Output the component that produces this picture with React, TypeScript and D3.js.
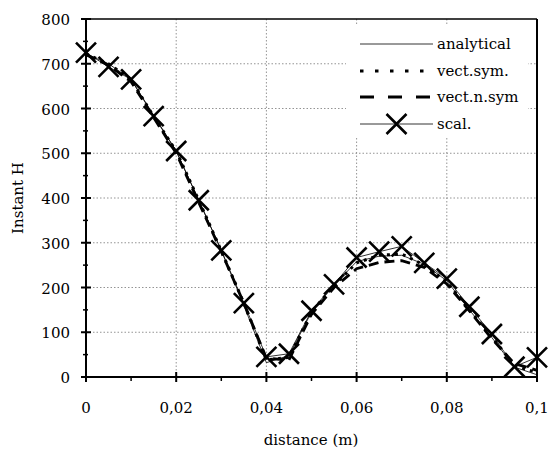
import React from "react";
import * as d3 from "d3";

const distances = [0, 0.005, 0.01, 0.015, 0.02, 0.025, 0.03, 0.035, 0.04, 0.045, 0.05, 0.055, 0.06, 0.065, 0.07, 0.075, 0.08, 0.085, 0.09, 0.095, 0.1];
const analytical = [722, 700, 665, 585, 505, 395, 283, 160, 32, 48, 145, 205, 258, 270, 272, 252, 215, 150, 88, 22, 5];
const vectSym = [722, 700, 665, 582, 505, 395, 282, 165, 38, 44, 145, 205, 255, 272, 275, 250, 213, 150, 90, 25, 10];
const vectNSym = [720, 697, 660, 580, 500, 390, 280, 165, 42, 38, 140, 200, 242, 256, 260, 245, 208, 148, 85, 30, 15];
const scal = [725, 693, 665, 583, 505, 395, 283, 165, 45, 52, 148, 207, 267, 280, 292, 255, 220, 157, 96, 23, 44];

const yTicks = [0, 100, 200, 300, 400, 500, 600, 700, 800];
const yMinor = [50, 150, 250, 350, 450, 550, 650, 750];
const xTicks = [0, 0.02, 0.04, 0.06, 0.08, 0.1];
const xMinor = [0.01, 0.03, 0.05, 0.07, 0.09];
const xTickLabels = ["0", "0,02", "0,04", "0,06", "0,08", "0,1"];
const legendLabels = ["analytical", "vect.sym.", "vect.n.sym", "scal."];

const W = 549, H = 453;
const L = 86, R = 537, T = 19, B = 377;
const FONT = "DejaVu Serif, serif";
const txt: React.CSSProperties = { fontFamily: FONT, fontSize: 15 };

export default function App() {
  const x = d3.scaleLinear().domain([0, 0.1]).range([L, R]);
  const y = d3.scaleLinear().domain([0, 800]).range([B, T]);
  const line = (vals: number[]) =>
    d3.line<number>().x((_, i) => x(distances[i])).y((v) => y(v))(vals) || "";

  const cross = (cx: number, cy: number, s = 10, key?: any) => (
    <path key={key} d={`M${cx - s},${cy - s}L${cx + s},${cy + s}M${cx - s},${cy + s}L${cx + s},${cy - s}`} stroke="#000" strokeWidth={2.6} fill="none" />
  );

  const legY = [44, 71, 97, 124];
  const lx0 = 360, lx1 = 433;

  return (
    <svg width={W} height={H} style={{ position: "absolute", left: 0, top: 0, background: "#fff" }}>
      <rect x={0} y={0} width={W} height={H} fill="#fff" />
      {yTicks.filter((t) => t > 0 && t < 800).map((t) => (
        <line key={"gy" + t} x1={L} x2={R} y1={y(t)} y2={y(t)} stroke="#888" strokeWidth={0.9} strokeDasharray="1.5 2" />
      ))}
      {xTicks.filter((t) => t > 0 && t < 0.1).map((t) => (
        <line key={"gx" + t} x1={x(t)} x2={x(t)} y1={T} y2={B} stroke="#888" strokeWidth={0.9} strokeDasharray="1.5 2" />
      ))}
      <rect x={346} y={26} width={182} height={112} fill="#fff" />
      <line x1={L} x2={R} y1={T} y2={T} stroke="#000" strokeWidth={1.5} />
      <line x1={R} x2={R} y1={T} y2={B} stroke="#000" strokeWidth={2} />
      <path d={line(analytical)} fill="none" stroke="#000" strokeWidth={0.8} />
      <path d={line(vectSym)} fill="none" stroke="#000" strokeWidth={3} strokeDasharray="3 5" />
      <path d={line(vectNSym)} fill="none" stroke="#000" strokeWidth={2.8} strokeDasharray="10 6" />
      <path d={line(scal)} fill="none" stroke="#000" strokeWidth={0.8} />
      {scal.map((v, i) => cross(x(distances[i]), y(v), 10, "m" + i))}
      <line x1={L} x2={L} y1={T} y2={B} stroke="#000" strokeWidth={2} />
      <line x1={L} x2={R} y1={B} y2={B} stroke="#000" strokeWidth={2} />
      {yTicks.map((t) => (
        <line key={"yt" + t} x1={L - 5} x2={L + 5} y1={y(t)} y2={y(t)} stroke="#000" strokeWidth={2} />
      ))}
      {yMinor.map((t) => (
        <line key={"ym" + t} x1={L - 3} x2={L + 2} y1={y(t)} y2={y(t)} stroke="#000" strokeWidth={1.5} />
      ))}
      {xTicks.map((t) => (
        <line key={"xt" + t} x1={x(t)} x2={x(t)} y1={B - 5} y2={B + 5} stroke="#000" strokeWidth={2} />
      ))}
      {xMinor.map((t) => (
        <line key={"xm" + t} x1={x(t)} x2={x(t)} y1={B - 1} y2={B + 4} stroke="#000" strokeWidth={1.5} />
      ))}
      {yTicks.map((t) => (
        <text key={"yl" + t} x={70} y={y(t) + 6} textAnchor="end" style={txt}>{t}</text>
      ))}
      {xTicks.map((t, i) => (
        <text key={"xl" + t} x={x(t)} y={413} textAnchor="middle" style={txt}>{xTickLabels[i]}</text>
      ))}
      <text x={311} y={445} textAnchor="middle" style={txt}>distance (m)</text>
      <text transform="translate(23,198) rotate(-90)" textAnchor="middle" style={txt}>Instant H</text>
      <line x1={lx0} x2={lx1} y1={legY[0]} y2={legY[0]} stroke="#000" strokeWidth={0.8} />
      <line x1={lx0} x2={lx1} y1={legY[1]} y2={legY[1]} stroke="#000" strokeWidth={3} strokeDasharray="3.5 11.5" />
      <line x1={lx0} x2={lx1} y1={legY[2]} y2={legY[2]} stroke="#000" strokeWidth={2.8} strokeDasharray="14 14" />
      <line x1={lx0} x2={lx1} y1={legY[3]} y2={legY[3]} stroke="#000" strokeWidth={0.8} />
      {cross((lx0 + lx1) / 2, legY[3], 10)}
      {legendLabels.map((s, i) => (
        <text key={s} x={437} y={legY[i] + 5} style={txt}>{s}</text>
      ))}
    </svg>
  );
}
